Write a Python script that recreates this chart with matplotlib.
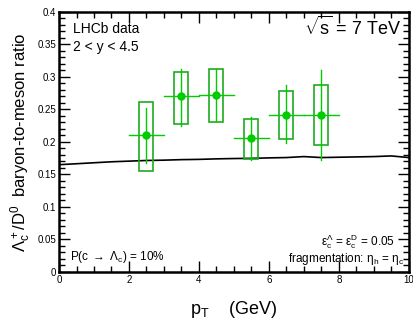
import matplotlib
matplotlib.use("Agg")
import matplotlib.pyplot as plt
from matplotlib.patches import Rectangle
from matplotlib.ticker import MultipleLocator

plt.rcParams['font.family'] = ['Liberation Sans', 'DejaVu Sans']
plt.rcParams['mathtext.fontset'] = 'custom'
plt.rcParams['mathtext.rm'] = 'Liberation Sans'
plt.rcParams['mathtext.it'] = 'Liberation Sans'
plt.rcParams['mathtext.sf'] = 'Liberation Sans'

# data
pt = [2.5, 3.5, 4.5, 5.5, 6.5, 7.5]
pt_halfwidth = [0.5, 0.5, 0.5, 0.5, 0.5, 0.5]
ratio = [0.210, 0.271, 0.273, 0.206, 0.242, 0.242]
stat_lo = [0.168, 0.225, 0.232, 0.172, 0.198, 0.173]
stat_hi = [0.252, 0.313, 0.313, 0.239, 0.287, 0.311]
syst_lo = [0.155, 0.227, 0.230, 0.174, 0.204, 0.196]
syst_hi = [0.261, 0.308, 0.313, 0.236, 0.279, 0.288]

curve_x = [0, 0.5, 1, 1.5, 2, 2.5, 3, 3.5, 4, 4.5, 5, 5.5, 6, 6.5, 7, 7.5, 8, 8.5, 9, 9.5, 10]
curve_y = [0.165, 0.1665, 0.168, 0.1695, 0.1705, 0.1715, 0.172, 0.1728, 0.1732, 0.174, 0.1745,
           0.1748, 0.1755, 0.176, 0.1775, 0.176, 0.1765, 0.177, 0.1775, 0.1785, 0.176]

fig = plt.figure(figsize=(4.13, 3.23), dpi=100)
ax = fig.add_axes([0.1429, 0.158, 0.847, 0.805])

green = '#00cc00'
boxc = '#1faa1f'

ax.plot(curve_x, curve_y, color='black', lw=1.2, zorder=3)

for x, hw, y, sl, sh, yl, yh in zip(pt, pt_halfwidth, ratio, stat_lo, stat_hi, syst_lo, syst_hi):
    ax.add_patch(Rectangle((x - 0.2, yl), 0.4, yh - yl, fill=False, edgecolor=boxc, lw=1.2, zorder=4))
    ax.plot([x, x], [sl, sh], color=green, lw=1.0, zorder=5)
    ax.plot([x - hw, x + hw], [y, y], color=green, lw=1.0, zorder=5)
    ax.plot([x], [y], 'o', color=green, ms=5, zorder=6)

ax.set_xlim(0, 10)
ax.set_ylim(0, 0.4)
ax.xaxis.set_major_locator(MultipleLocator(2))
ax.xaxis.set_minor_locator(MultipleLocator(0.5))
ax.yaxis.set_major_locator(MultipleLocator(0.05))
ax.yaxis.set_minor_locator(MultipleLocator(0.01))
ax.set_yticks([0, 0.05, 0.1, 0.15, 0.2, 0.25, 0.3, 0.35, 0.4])
ax.set_yticklabels(['0', '0.05', '0.1', '0.15', '0.2', '0.25', '0.3', '0.35', '0.4'])
ax.set_xticks([0, 2, 4, 6, 8, 10])
ax.set_xticklabels(['0', '2', '4', '6', '8', '10'])
ax.tick_params(which='both', direction='in', top=True, right=True, labelsize=7, pad=2)
ax.tick_params(which='major', length=8, width=1)
ax.tick_params(which='minor', length=4, width=1)
for s in ax.spines.values():
    s.set_linewidth(1.8)

ax.set_ylabel(r'$\mathrm{\Lambda}_c^+/\mathrm{D}^0$  baryon-to-meson ratio', fontsize=12, labelpad=3)
ax.set_xlabel(r'$\mathrm{p}_\mathrm{T}$    (GeV)', fontsize=13, labelpad=10)

ax.text(0.04, 0.92, 'LHCb data', transform=ax.transAxes, fontsize=10, va='baseline')
ax.text(0.04, 0.85, r'2 < y < 4.5', transform=ax.transAxes, fontsize=10, va='baseline')
ax.text(0.98, 0.91, r'$\sqrt{\mathrm{s}}$ = 7 TeV', transform=ax.transAxes, fontsize=13,
        ha='right', va='baseline')
ax.text(0.96, 0.10, r'$\mathrm{\varepsilon}_c^\Lambda$ = $\mathrm{\varepsilon}_c^D$ = 0.05',
        transform=ax.transAxes, fontsize=8.5, ha='right', va='baseline')
ax.text(0.985, 0.04, r'fragmentation: $\mathrm{\eta}_h$ = $\mathrm{\eta}_c$',
        transform=ax.transAxes, fontsize=8.5, ha='right', va='baseline')
ax.text(0.03, 0.045, r'P(c $\rightarrow$ $\mathrm{\Lambda}_c$) = 10%',
        transform=ax.transAxes, fontsize=8.5, ha='left', va='baseline')

fig.savefig('out.png', dpi=100)
